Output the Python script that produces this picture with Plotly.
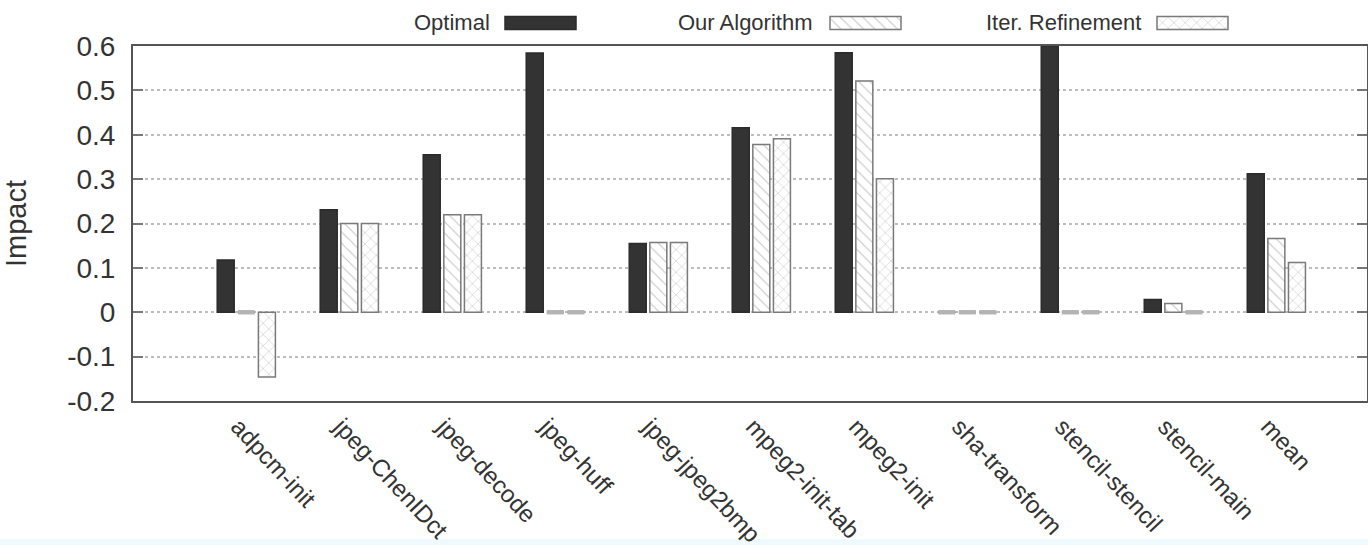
import plotly.graph_objects as go

# ---- data -------------------------------------------------------------
categories = [
    "adpcm-init", "jpeg-ChenIDct", "jpeg-decode", "jpeg-huff", "jpeg-jpeg2bmp",
    "mpeg2-init-tab", "mpeg2-init", "sha-transform", "stencil-stencil",
    "stencil-main", "mean",
]
optimal = [0.118, 0.231, 0.355, 0.584, 0.155, 0.416, 0.585, 0.0, 0.600, 0.029, 0.312]
our_algorithm = [0.0, 0.200, 0.220, 0.0, 0.157, 0.378, 0.521, 0.0, 0.0, 0.020, 0.166]
iter_refinement = [-0.146, 0.200, 0.220, 0.0, 0.157, 0.391, 0.301, 0.0, 0.0, 0.0, 0.112]
series_names = ["Optimal", "Our Algorithm", "Iter. Refinement"]
y_tick_values = [-0.2, -0.1, 0, 0.1, 0.2, 0.3, 0.4, 0.5, 0.6]
y_tick_labels = ["-0.2", "-0.1", "0", "0.1", "0.2", "0.3", "0.4", "0.5", "0.6"]

# ---- styling ----------------------------------------------------------
FONT = "Liberation Sans, Arial, Helvetica, sans-serif"
TEXT_COLOR = "#333333"
BAR_W = 0.165          # bar width in category units
SLOT = 0.2             # distance between neighbouring bars in a group
STUB = 0.010           # height of the grey marker drawn for zero values
W, H = 1368, 545
M_L, M_R, M_T, M_B = 133, 1, 0, 144
PLOT_H = H - M_T - M_B
AXIS_TOP_PX = 46       # top border of the chart box (pixels from top)

styles = [
    dict(fill="#333333", line="#2b2b2b", shape=""),
    dict(fill="#ffffff", line="#7a7a7a", shape="\\"),
    dict(fill="#ffffff", line="#7a7a7a", shape="x"),
]


def bar_marker(st):
    return dict(
        color=st["fill"],
        line=dict(color=st["line"], width=1.5),
        pattern=dict(shape=st["shape"], fgcolor="#8e8e8e", bgcolor=st["fill"],
                     size=8, solidity=0.14),
    )


fig = go.Figure()

for i, (name, vals, st) in enumerate(zip(series_names,
                                         [optimal, our_algorithm, iter_refinement],
                                         styles)):
    offset = (i - 1) * SLOT - BAR_W / 2
    fig.add_trace(go.Bar(
        name=name, x=categories, y=vals,
        offset=offset, width=BAR_W,
        marker=bar_marker(st), showlegend=False,
    ))
    # zero-valued entries are shown as a flat grey stub on the baseline
    zero_cats = [c for c, v in zip(categories, vals) if v == 0]
    if zero_cats:
        fig.add_trace(go.Bar(
            x=zero_cats, y=[STUB] * len(zero_cats), base=-STUB / 2,
            offset=offset, width=BAR_W,
            marker=dict(color="#b4b4b4", line=dict(width=0)),
            showlegend=False, hoverinfo="skip",
        ))

# ---- key row above the chart box (pixel-unit helper axes) ---------------
LEGEND_TEXT_RIGHT = [492, 815, 1143]
LEGEND_SWATCH_LEFT = [505, 830, 1157]
SWATCH_LEN = 71
SWATCH_H = 13
LEGEND_Y = 23

for name, st, tx, sx in zip(series_names, styles, LEGEND_TEXT_RIGHT, LEGEND_SWATCH_LEFT):
    fig.add_trace(go.Bar(
        x=[SWATCH_LEN], y=[LEGEND_Y], base=[sx], orientation="h", width=SWATCH_H,
        marker=bar_marker(st), xaxis="x2", yaxis="y2",
        showlegend=False, hoverinfo="skip",
    ))
    fig.add_annotation(
        x=tx, y=LEGEND_Y - 1, xref="x2", yref="y2", text=name, showarrow=False,
        xanchor="right", yanchor="middle",
        font=dict(family=FONT, size=22, color=TEXT_COLOR),
    )

plot_domain_top = (PLOT_H - AXIS_TOP_PX) / PLOT_H

fig.update_layout(
    width=W, height=H,
    margin=dict(l=M_L, r=M_R, t=M_T, b=M_B, autoexpand=False),
    paper_bgcolor="white", plot_bgcolor="white",
    barmode="overlay",
    showlegend=False,
    font=dict(family=FONT, color=TEXT_COLOR),
    xaxis=dict(
        type="category", range=[-1.1, 10.88], automargin=False,
        showline=True, linecolor="#555555", linewidth=2, mirror=True,
        showgrid=False, ticks="", tickangle=47, ticklabelshift=-8,
        tickfont=dict(family=FONT, size=24, color=TEXT_COLOR),
        fixedrange=True,
    ),
    yaxis=dict(
        domain=[0, plot_domain_top], range=[-0.2, 0.6], automargin=False,
        tickmode="array", tickvals=y_tick_values, ticktext=y_tick_labels,
        ticks="inside", ticklen=10, tickwidth=2, tickcolor="#777777",
        ticklabelstandoff=10,
        showline=True, linecolor="#555555", linewidth=2, mirror="ticks",
        showgrid=True, gridcolor="#bdbdbd", gridwidth=1.5, griddash="dot",
        zeroline=False,
        tickfont=dict(family=FONT, size=28, color=TEXT_COLOR),
        title=dict(text="Impact", standoff=33,
                   font=dict(family=FONT, size=29, color=TEXT_COLOR)),
        fixedrange=True,
    ),
    xaxis2=dict(domain=[0, 1], anchor="y2", range=[M_L, W - M_R], visible=False,
                automargin=False, fixedrange=True),
    yaxis2=dict(domain=[plot_domain_top, 1], anchor="x2", range=[AXIS_TOP_PX, 0],
                visible=False, automargin=False, fixedrange=True),
)

# faint tinted strip along the bottom edge
fig.add_shape(type="rect", xref="paper", yref="paper",
              x0=-M_L / (W - M_L - M_R), x1=1 + M_R / (W - M_L - M_R),
              y0=-M_B / PLOT_H, y1=-(M_B - 6) / PLOT_H,
              fillcolor="#eefaff", line=dict(width=0), layer="below")

fig.write_html("out.html")
